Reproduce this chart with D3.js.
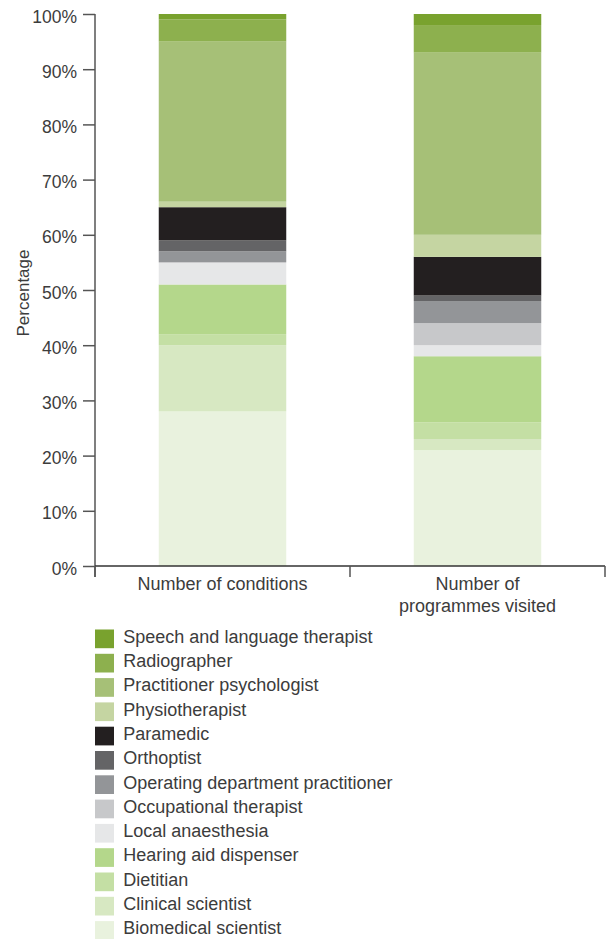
<!DOCTYPE html>
<html><head><meta charset="utf-8">
<script src="https://cdn.jsdelivr.net/npm/d3@7"></script>
<style>html,body{margin:0;padding:0;background:#fff}svg{display:block}text{font-family:"Liberation Sans",Arial,sans-serif;fill:#3c3c3c}</style>
</head><body><svg id="c" width="608" height="939"></svg>
<script>
const categories = ["Number of conditions", "Number of programmes visited"];
const categoryLines = [["Number of conditions"], ["Number of", "programmes visited"]];
// series listed bottom to top
const seriesNames = ["Biomedical scientist","Clinical scientist","Dietitian","Hearing aid dispenser","Local anaesthesia","Occupational therapist","Operating department practitioner","Orthoptist","Paramedic","Physiotherapist","Practitioner psychologist","Radiographer","Speech and language therapist"];
const conditionsValues = [28,12,2,9,4,0,2,2,6,1,29,4,1];
const programmesValues = [21,2,3,12,2,4,4,1,7,4,33,5,2];
const seriesColors = ["#e9f2de","#d7e8c2","#c4dfa4","#b4d78b","#e6e7e8","#c7c8ca","#939598","#646466","#231f20","#c5d5a2","#a6c077","#8db04e","#79a22e"];
const yTicks = [0,10,20,30,40,50,60,70,80,90,100];

(function(){
const svg = d3.select("#c");
const mL = 95, mR = 605, mT = 14, mB = 566;

const rows = categories.map((c,i)=>{
  const o = {cat:c};
  const vals = i===0 ? conditionsValues : programmesValues;
  seriesNames.forEach((s,j)=>o[s]=vals[j]);
  return o;
});
const stacked = d3.stack().keys(seriesNames)(rows);

const x = d3.scaleBand().domain(categories).range([mL,mR]).paddingInner(0.5).paddingOuter(0.25);
const y = d3.scaleLinear().domain([0,100]).range([mB,mT]);
const color = d3.scaleOrdinal().domain(seriesNames).range(seriesColors);

svg.append("g").selectAll("g").data(stacked).join("g")
  .attr("fill", d=>color(d.key))
  .selectAll("rect").data(d=>d).join("rect")
  .attr("x", d=>x(d.data.cat))
  .attr("width", x.bandwidth())
  .attr("y", d=>y(d[1]))
  .attr("height", d=>y(d[0])-y(d[1]));

// Y axis
const yAxis = svg.append("g").attr("transform",`translate(${mL},0)`)
  .call(d3.axisLeft(y).tickValues(yTicks).tickFormat(d=>d+"%").tickSize(12).tickPadding(6));
yAxis.select(".domain").remove();
yAxis.selectAll(".tick line").attr("stroke","#555").attr("stroke-width",1.5);
yAxis.selectAll(".tick text").attr("font-size",17.5).attr("dy","0.46em").attr("fill","#444").style("font-family","'Liberation Sans',Arial,sans-serif");
svg.append("line").attr("x1",mL).attr("x2",mL).attr("y1",mT).attr("y2",mB+11).attr("stroke","#555").attr("stroke-width",1.5);

// X axis
svg.append("line").attr("x1",mL).attr("x2",mR).attr("y1",mB).attr("y2",mB).attr("stroke","#333").attr("stroke-width",1.5);
const xTickPos = [mL, (mL+mR)/2, mR];
svg.selectAll(".xt").data(xTickPos).join("line").attr("class","xt")
  .attr("x1",d=>d).attr("x2",d=>d).attr("y1",mB).attr("y2",mB+11).attr("stroke","#555").attr("stroke-width",1.5);
categories.forEach((c,i)=>{
  const cx = x(c)+x.bandwidth()/2;
  const t = svg.append("text").attr("text-anchor","middle").attr("font-size",18).attr("x",cx).attr("y",590);
  categoryLines[i].forEach((ln,k)=>t.append("tspan").attr("x",cx).attr("dy",k===0?0:21.5).text(ln));
});

// Y title
svg.append("text").attr("transform","translate(29,293) rotate(-90)").attr("text-anchor","middle").attr("font-size",17).text("Percentage");

// Legend (top to bottom)
const legendItems = seriesNames.slice().reverse();
const lg = svg.append("g").selectAll("g").data(legendItems).join("g")
  .attr("transform",(d,i)=>`translate(95,${629.5+i*24.3})`);
lg.append("rect").attr("width",19).attr("height",18.7).attr("fill",d=>color(d));
lg.append("text").attr("x",28.3).attr("y",13.2).attr("font-size",18).text(d=>d);
})();
</script></body></html>
